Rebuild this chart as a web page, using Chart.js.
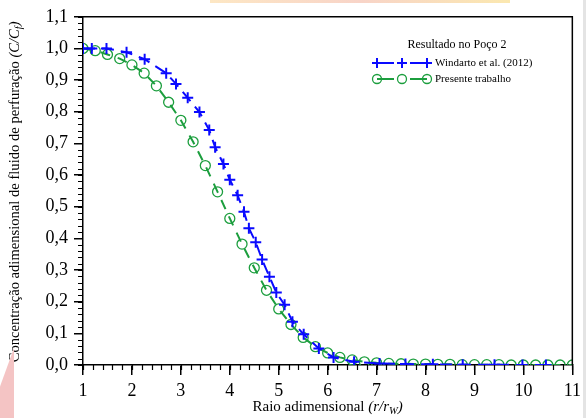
<!DOCTYPE html>
<html>
<head>
<meta charset="utf-8">
<script src="https://cdn.jsdelivr.net/npm/chart.js@4.4.1/dist/chart.umd.min.js"></script>
<style>
  body { margin: 0; background: #fff; }
  #wrap { position: relative; width: 586px; height: 418px; overflow: hidden; }
  #pink { position: absolute; left: 0; top: 348px; width: 14px; height: 70px; background: #f4c4c4; clip-path: polygon(100% 0, 100% 100%, 0 100%, 0 55%); }
  #band { position: absolute; left: 210px; top: 0; width: 300px; height: 3px; background: linear-gradient(90deg, #fde7c4, #f8d4c8, #fbe8b0); }
  #edge { position: absolute; right: 0; top: 0; width: 3px; height: 418px; background: #e4e4e4; }
</style>
</head>
<body>
<div id="wrap">
  <canvas id="chart" width="586" height="418"></canvas>
  <div id="pink"></div>
  <div id="band"></div>
  <div id="edge"></div>
</div>
<script>
// Windarto et al. (2012)
const windartoX = [1.00, 1.18, 1.48, 1.89, 2.26, 2.70, 2.90, 3.14, 3.38, 3.58, 3.70, 3.87, 4.00, 4.16, 4.29, 4.39, 4.53, 4.66, 4.81, 4.95, 5.12, 5.28, 5.51, 5.82, 6.12, 6.54, 7.06, 7.59, 8.15, 8.76, 9.41, 9.98, 10.46];
const windartoY = [1.000, 1.000, 1.000, 0.988, 0.966, 0.922, 0.888, 0.844, 0.799, 0.742, 0.688, 0.635, 0.585, 0.536, 0.484, 0.432, 0.388, 0.333, 0.279, 0.229, 0.190, 0.137, 0.097, 0.052, 0.024, 0.010, 0.005, 0.003, 0.002, 0.001, 0.001, 0.000, 0.000];

// Presente trabalho
const presenteX = [1.00, 1.25, 1.50, 1.75, 2.00, 2.25, 2.50, 2.75, 3.00, 3.25, 3.50, 3.75, 4.00, 4.25, 4.50, 4.75, 5.00, 5.25, 5.50, 5.75, 6.00, 6.25, 6.50, 6.75, 7.00, 7.25, 7.50, 7.75, 8.00, 8.25, 8.50, 8.75, 9.00, 9.25, 9.50, 9.75, 10.00, 10.25, 10.50, 10.75, 11.00];
const presenteY = [1.000, 0.993, 0.981, 0.968, 0.948, 0.922, 0.882, 0.830, 0.773, 0.705, 0.630, 0.547, 0.463, 0.382, 0.307, 0.236, 0.177, 0.128, 0.087, 0.058, 0.038, 0.024, 0.016, 0.010, 0.007, 0.005, 0.004, 0.003, 0.003, 0.002, 0.002, 0.001, 0.001, 0.001, 0.001, 0.000, 0.000, 0.000, 0.000, 0.000, 0.000];

const legendTitle = 'Resultado no Poço 2';
const seriesNames = ['Windarto et al. (2012)', 'Presente trabalho'];

const BLUE = '#0a0aff';
const GREEN = '#1c9e3e';
const SERIF = "'Liberation Serif', 'Times New Roman', serif";

function toPoints(xs, ys) {
    return xs.map((x, i) => ({ x: x, y: ys[i] }));
}

// draw text made of normal / italic / subscript pieces, centred on (cx, cy)
function drawRich(ctx, parts, cx, cy, size) {
    const fontOf = p => (p.italic ? 'italic ' : '') + (p.sub ? size * 0.7 : size) + 'px ' + SERIF;
    let total = 0;
    parts.forEach(p => { ctx.font = fontOf(p); total += ctx.measureText(p.t).width; });
    let x = cx - total / 2;
    ctx.textBaseline = 'middle';
    ctx.textAlign = 'left';
    parts.forEach(p => {
        ctx.font = fontOf(p);
        ctx.fillText(p.t, x, cy + (p.sub ? size * 0.28 : 0));
        x += ctx.measureText(p.t).width;
    });
}

function drawPlus(ctx, x, y, r) {
    ctx.beginPath();
    ctx.moveTo(x - r, y); ctx.lineTo(x + r, y);
    ctx.moveTo(x, y - r); ctx.lineTo(x, y + r);
    ctx.stroke();
}

const decor = {
    id: 'decor',
    afterDraw(chart) {
        const ctx = chart.ctx;
        const a = chart.chartArea;
        const xs = chart.scales.x, ys = chart.scales.y;
        ctx.save();
        ctx.strokeStyle = '#000';
        ctx.fillStyle = '#000';

        // frame top and right
        ctx.lineWidth = 1.5;
        ctx.beginPath();
        ctx.moveTo(a.left, a.top); ctx.lineTo(a.right, a.top); ctx.lineTo(a.right, a.bottom);
        ctx.stroke();

        // minor ticks
        ctx.lineWidth = 1.2;
        ctx.beginPath();
        for (let v = 1; v <= 11.001; v += 0.2) {
            const px = Math.round(xs.getPixelForValue(v)) + 0.5;
            ctx.moveTo(px, a.bottom); ctx.lineTo(px, a.bottom + 5);
        }
        for (let v = 0; v <= 1.1001; v += 0.02) {
            const py = Math.round(ys.getPixelForValue(v)) + 0.5;
            ctx.moveTo(a.left, py); ctx.lineTo(a.left - 5, py);
        }
        ctx.stroke();

        // axis titles
        drawRich(ctx, [
            { t: 'Raio adimensional ' },
            { t: '(r/r', italic: true },
            { t: 'W', italic: true, sub: true },
            { t: ')', italic: true }
        ], (a.left + a.right) / 2, 407, 15);

        ctx.save();
        ctx.translate(15, (a.top + a.bottom) / 2 + 1);
        ctx.rotate(-Math.PI / 2);
        drawRich(ctx, [
            { t: 'Concentração adimensional de fluido de perfuração ' },
            { t: '(C/C', italic: true },
            { t: 'f', italic: true, sub: true },
            { t: ')', italic: true }
        ], 0, 0, 14.6);
        ctx.restore();

        // legend
        ctx.font = '12px ' + SERIF;
        ctx.textAlign = 'center';
        ctx.textBaseline = 'middle';
        ctx.fillText(legendTitle, 457, 45);

        const x0 = 377, x1 = 402, x2 = 427;
        ctx.lineWidth = 2;
        ctx.strokeStyle = BLUE;
        ctx.beginPath();
        ctx.moveTo(x0, 63); ctx.lineTo(x1 - 8, 63);
        ctx.moveTo(x1 + 8, 63); ctx.lineTo(x2, 63);
        ctx.stroke();
        [x0, x1, x2].forEach(x => drawPlus(ctx, x, 63, 5));

        ctx.strokeStyle = GREEN;
        ctx.beginPath();
        ctx.moveTo(x0, 79); ctx.lineTo(x1 - 8, 79);
        ctx.moveTo(x1 + 8, 79); ctx.lineTo(x2, 79);
        ctx.stroke();
        ctx.lineWidth = 1.3;
        [x0, x1, x2].forEach(x => {
            ctx.beginPath(); ctx.arc(x, 79, 4.5, 0, Math.PI * 2); ctx.stroke();
        });

        ctx.font = '11px ' + SERIF;
        ctx.textAlign = 'left';
        ctx.fillStyle = '#000';
        ctx.fillText(seriesNames[0], 435, 63);
        ctx.fillText(seriesNames[1], 435, 79);
        ctx.restore();
    }
};

const ctx = document.getElementById('chart').getContext('2d');
new Chart(ctx, {
    type: 'scatter',
    data: {
        datasets: [{
            label: seriesNames[0],
            data: toPoints(windartoX, windartoY),
            showLine: true,
            borderColor: BLUE,
            backgroundColor: BLUE,
            borderWidth: 2,
            borderDash: [12, 7],
            pointStyle: 'cross',
            pointRadius: 5.5,
            pointBorderWidth: 2,
            pointBorderColor: BLUE
        }, {
            label: seriesNames[1],
            data: toPoints(presenteX, presenteY),
            showLine: true,
            borderColor: GREEN,
            backgroundColor: 'rgba(0,0,0,0)',
            borderWidth: 2,
            borderDash: [10, 8],
            pointStyle: 'circle',
            pointRadius: 5,
            pointBorderWidth: 1.3,
            pointBorderColor: GREEN
        }]
    },
    options: {
        responsive: false,
        animation: false,
        layout: { padding: { left: 0, right: 11, top: 14, bottom: 0 } },
        plugins: { legend: { display: false }, tooltip: { enabled: false } },
        scales: {
            x: {
                type: 'linear',
                min: 1,
                max: 11,
                afterFit: s => { s.height = 53; },
                border: { display: true, color: '#000', width: 1.5 },
                grid: { drawOnChartArea: false, drawTicks: true, tickLength: 10, color: '#000', lineWidth: 1.5 },
                ticks: {
                    stepSize: 1,
                    color: '#000',
                    padding: 5,
                    maxRotation: 0,
                    font: { family: SERIF, size: 18 }
                }
            },
            y: {
                min: 0,
                max: 1.1,
                afterFit: s => { s.width = 83; },
                border: { display: true, color: '#000', width: 1.5 },
                grid: { drawOnChartArea: false, drawTicks: true, tickLength: 9, color: '#000', lineWidth: 1.5 },
                ticks: {
                    stepSize: 0.1,
                    color: '#000',
                    padding: 6,
                    font: { family: SERIF, size: 18 },
                    callback: v => v.toFixed(1).replace('.', ',')
                }
            }
        }
    },
    plugins: [decor]
});
</script>
</body>
</html>
